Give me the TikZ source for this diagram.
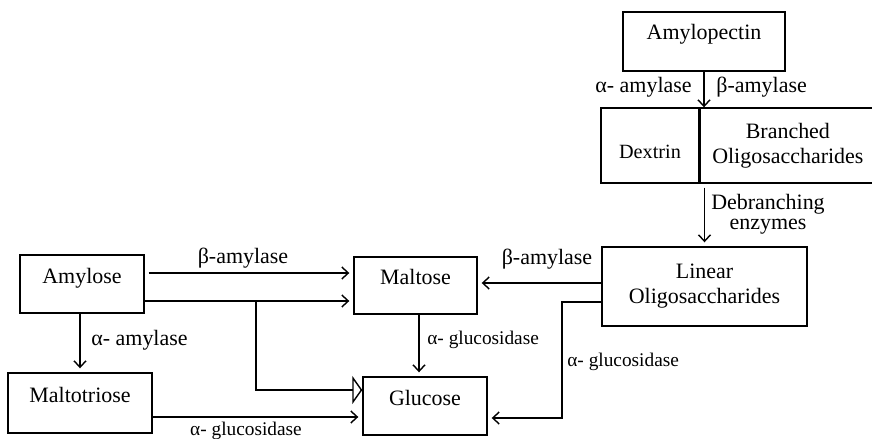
\documentclass[tikz,border=0pt]{standalone}
\usepackage{fontspec}
\setmainfont{Liberation Serif}
\usetikzlibrary{arrows.meta}

\begin{document}
\begin{tikzpicture}[
  x=0.02cm, y=-0.02cm,
  box/.style={draw, line width=0.8pt, align=center, inner sep=0pt, font=\fontsize{12.5}{14.2}\selectfont},
  sbox/.style={box, text depth=9.5pt},
  enz/.style={inner sep=0pt, align=center, font=\fontsize{12.5}{11.4}\selectfont},
  enzs/.style={inner sep=0pt, font=\fontsize{11}{13}\selectfont},
  >={Straight Barb[length=1.3mm, width=2.4mm]},
  flow/.style={->, line width=0.8pt, shorten >=0.8mm}
]
\useasboundingbox (0,0) rectangle (872,439);

% boxes
\node[sbox, minimum width=3.24cm, minimum height=1.18cm, text depth=11.5pt] (amylopectin) at (704,41.5) {Amylopectin};
\node[box, minimum width=1.96cm, minimum height=1.5cm, text height=15pt, text depth=0pt, font=\fontsize{11.5}{13}\selectfont] (dextrin) at (650,145.5) {Dextrin};
\node[box, anchor=west, minimum width=3.5cm, minimum height=1.5cm] (branched) at (dextrin.east) {Branched\\Oligosaccharides};
\node[box, minimum width=4.1cm, minimum height=1.58cm] (linear) at (704.5,286.5) {Linear\\Oligosaccharides};
\node[sbox, minimum width=2.48cm, minimum height=1.16cm] (amylose) at (82,284) {Amylose};
\node[sbox, minimum width=2.88cm, minimum height=1.2cm] (maltotriose) at (80,403) {Maltotriose};
\node[sbox, minimum width=2.46cm, minimum height=1.14cm] (maltose) at (415.5,285.5) {Maltose};
\node[sbox, minimum width=2.48cm, minimum height=1.16cm] (glucose) at (425,406) {Glucose};

% amylopectin breakdown
\draw[flow, shorten >=0pt] (amylopectin.south) -- (amylopectin.south |- dextrin.north);
\node[enz, anchor=east] (alpha1) at (692,87) {α- amylase};
\node[enz, anchor=west] (beta1) at (716,87) {β-amylase};
\draw[flow, shorten <=0.08cm] (linear.north |- branched.south) -- (linear.north);
\node[enz] (debranch) at (768,214) {Debranching\\enzymes};

% amylose
\coordinate (fork) at (256,301);
\coordinate (bend) at (562,418);
\draw[flow, shorten <=0.08cm] ([yshift=0.22cm]amylose.east) -- ([yshift=0.22cm]amylose.east -| maltose.west);
\node[enz] (beta2) at (243,258) {β-amylase};
\draw[flow] ([yshift=-0.34cm]amylose.east) -- ([yshift=-0.34cm]amylose.east -| maltose.west);
\draw[line width=0.8pt, -{Triangle[open, length=2mm, width=5.6mm]}] (fork) |- ([yshift=0.32cm]glucose.west);
\draw[flow] (amylose.south -| maltotriose.north) -- (maltotriose.north);
\node[enz, anchor=west] (alpha2) at (91,340) {α- amylase};
\draw[flow] ([yshift=-0.22cm]glucose.west -| maltotriose.east) -- ([yshift=-0.22cm]glucose.west);
\node[enzs] (gluc1) at (246,431) {α- glucosidase};

% maltose and linear chains to glucose
\draw[flow] ([xshift=0.07cm]maltose.south) -- ([xshift=0.07cm]maltose.south |- glucose.north);
\node[enzs, anchor=west] (gluc2) at (427,340) {α- glucosidase};
\draw[flow] ([yshift=0.07cm]linear.west) -- ([yshift=0.07cm]linear.west -| maltose.east);
\node[enz] (beta3) at (547,259) {β-amylase};
\draw[flow] ([yshift=-0.31cm]linear.west) -| (bend) -- (bend -| glucose.east);
\node[enzs, anchor=west] (gluc3) at (567,362) {α- glucosidase};
\end{tikzpicture}
\end{document}
